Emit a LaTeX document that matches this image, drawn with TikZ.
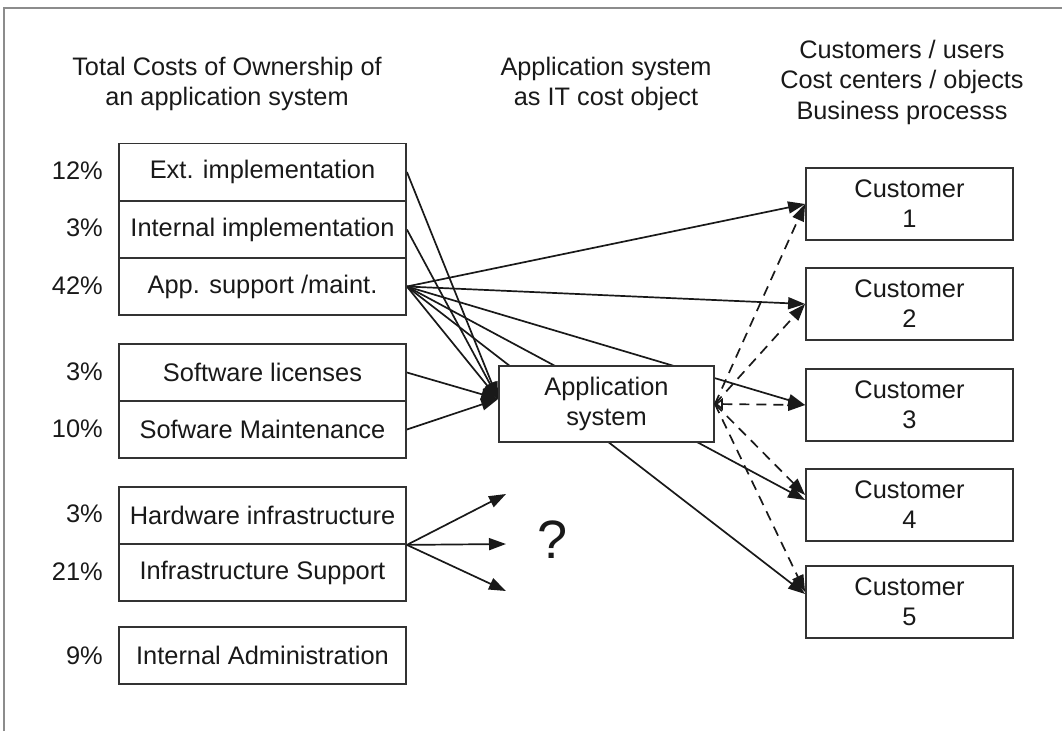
\documentclass[tikz,border=0pt]{standalone}
\usepackage{fontspec}
\setmainfont{Liberation Sans}
\usetikzlibrary{arrows.meta}
\pgfdeclarelayer{bg}
\pgfsetlayers{bg,main}
\begin{document}
\begin{tikzpicture}[x=1pt,y=-1pt,
  txt/.style={font=\fontsize{25.4}{30}\selectfont, text=black!90, align=center, inner sep=0pt},
  hdr/.style={txt, font=\fontsize{25.3}{30.5}\selectfont},
  costbox/.style={txt, draw=black!80, line width=1.8pt, fill=white, minimum width=287pt, minimum height=57pt},
  appbox/.style={txt, draw=black!80, line width=1.8pt, fill=white, minimum width=215pt, minimum height=76pt},
  custbox/.style={txt, draw=black!80, line width=1.8pt, fill=white, minimum width=207pt, minimum height=72pt},
  pct/.style={txt, anchor=east},
  conn/.style={draw=black!90, line width=1.7pt, -{Triangle[length=17pt,width=12pt]}},
  dconn/.style={conn, dash pattern=on 10pt off 7pt}]
\useasboundingbox (0,0) rectangle (1062,731);
\draw[black!45, line width=1.4pt] (4,731) -- (4,8) -- (1062,8);

% headers
\node[hdr] (h1) at (227,84) {Total Costs of Ownership of\\an application system};
\node[hdr] (h2) at (606,84) {Application system\\as IT cost object};
\node[hdr] (h3) at (902,82) {Customers / users\\Cost centers / objects\\Business processs};

% cost boxes
\node[costbox] (b1) at (262.5,172) {Ext. implementation};
\node[costbox] (b2) at (262.5,229.5) {Internal implementation};
\node[costbox] (b3) at (262.5,286.5) {App. support /maint.};
\node[costbox] (b4) at (262.5,372.5) {Software licenses};
\node[costbox] (b5) at (262.5,429.5) {Sofware Maintenance};
\node[costbox] (b6) at (262.5,515.5) {Hardware infrastructure};
\node[costbox] (b7) at (262.5,572.5) {Infrastructure Support};
\node[costbox] (b8) at (262.5,655.5) {Internal Administration};

% percentages
\node[pct] (p1) at (103,171) {12\%};
\node[pct] (p2) at (103,228) {3\%};
\node[pct] (p3) at (103,286) {42\%};
\node[pct] (p4) at (103,372) {3\%};
\node[pct] (p5) at (103,429) {10\%};
\node[pct] (p6) at (103,514) {3\%};
\node[pct] (p7) at (103,572) {21\%};
\node[pct] (p8) at (103,656) {9\%};

% application system
\node[appbox] (app) at (606.5,404) {Application\\system};

% customers
\node[custbox] (c1) at (909.5,204) {Customer\\1};
\node[custbox] (c2) at (909.5,304) {Customer\\2};
\node[custbox] (c3) at (909.5,405) {Customer\\3};
\node[custbox] (c4) at (909.5,505) {Customer\\4};
\node[custbox] (c5) at (909.5,602) {Customer\\5};

\node[txt, font=\fontsize{54}{54}\selectfont] (q) at (553,540) {?};

\coordinate (in) at ([yshift=5pt]app.west);
\coordinate (q1) at (506,494);
\coordinate (q2) at (506,544);
\coordinate (q3) at (506,591);
\coordinate (qs) at (b6.south east);

\begin{pgfonlayer}{bg}
\draw[conn] (b1.east) -- (in);
\draw[conn] (b2.east) -- (in);
\draw[conn] (b3.east) -- (in);
\draw[conn] (b4.east) -- (in);
\draw[conn] (b5.east) -- (in);
\draw[conn] (b3.east) -- (c1.west);
\draw[conn] (b3.east) -- (c2.west);
\draw[conn] (b3.east) -- (c3.west);
\draw[conn] (b3.east) -- ([yshift=5pt]c4.west);
\draw[conn] (b3.east) -- ([yshift=8pt]c5.west);
\end{pgfonlayer}

\draw[dconn] (app.east) -- (c1.west);
\draw[dconn] (app.east) -- (c2.west);
\draw[dconn, {Triangle[open,length=8pt,width=12pt]}-{Triangle[length=17pt,width=12pt]}] (app.east) -- (c3.west);
\draw[dconn] (app.east) -- ([yshift=10pt]c4.west);
\draw[dconn] (app.east) -- ([yshift=10pt]c5.west);

\draw[conn] (qs) -- (q1);
\draw[conn] (qs) -- (q2);
\draw[conn] (qs) -- (q3);
\end{tikzpicture}
\end{document}
